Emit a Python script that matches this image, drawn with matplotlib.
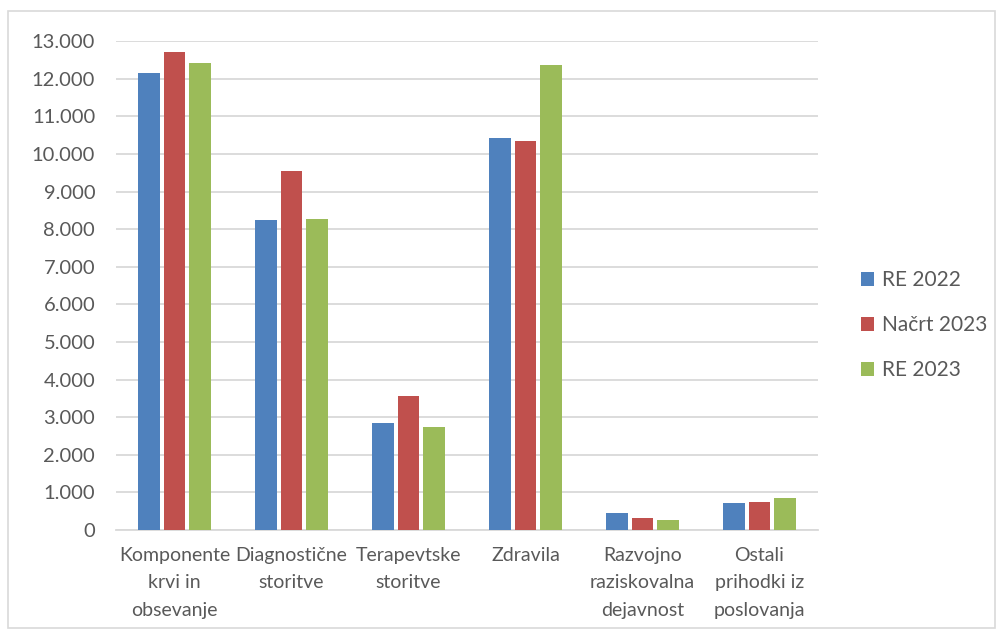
import matplotlib
matplotlib.use("Agg")
import matplotlib.pyplot as plt
import numpy as np
from matplotlib.patches import Rectangle

categories = ["Komponente\nkrvi in\nobsevanje", "Diagnostične\nstoritve", "Terapevtske\nstoritve",
              "Zdravila", "Razvojno\nraziskovalna\ndejavnost", "Ostali\nprihodki iz\nposlovanja"]
series_names = ["RE 2022", "Načrt 2023", "RE 2023"]
re2022 = [12150, 8240, 2850, 10430, 440, 720]
nacrt2023 = [12710, 9550, 3570, 10350, 310, 750]
re2023 = [12420, 8270, 2740, 12370, 270, 850]
yticks = list(range(0, 13001, 1000))
ytick_labels = ["0"] + [f"{v:,}".replace(",", ".") for v in yticks[1:]]

colors = ["#4F81BD", "#C0504D", "#9BBB59"]

plt.rcParams['font.family'] = ['Lato', 'DejaVu Sans']

fig = plt.figure(figsize=(10, 6.33), dpi=100)
fig.patches.append(Rectangle((0.008, 0.008), 0.987, 0.975, transform=fig.transFigure,
                             fill=False, edgecolor="#D9D9D9", linewidth=1.2))
ax = fig.add_axes([0.116, 0.1627, 0.702, 0.7723])

x = np.arange(len(categories))
w = 0.188
step = 0.222
for i, (vals, name) in enumerate(zip([re2022, nacrt2023, re2023], series_names)):
    ax.bar(x + (i - 1) * step, vals, width=w, color=colors[i], label=name, zorder=3)

ax.set_xlim(-0.5, len(categories) - 0.5)
ax.set_ylim(0, 13000)
ax.set_yticks(yticks)
ax.set_yticklabels(ytick_labels, fontsize=14.5, color="#595959")
ax.set_xticks(x)
ax.set_xticklabels(categories, fontsize=14, color="#595959")
for t in ax.get_xticklabels():
    t.set_linespacing(1.75)
ax.yaxis.grid(True, color="#D9D9D9", linewidth=1.3, zorder=0)
for s in ["top", "right", "left"]:
    ax.spines[s].set_visible(False)
ax.spines["bottom"].set_color("#D9D9D9")
ax.spines["bottom"].set_linewidth(1.3)
ax.tick_params(axis="both", length=0)
ax.tick_params(axis="y", pad=15)
ax.tick_params(axis="x", pad=12)

leg = fig.legend(loc="center left", bbox_to_anchor=(0.842, 0.486), frameon=False,
                 fontsize=15, handlelength=0.65, handleheight=0.65, handletextpad=0.35,
                 labelspacing=1.2, labelcolor="#595959")

fig.savefig("out.png", dpi=100)
